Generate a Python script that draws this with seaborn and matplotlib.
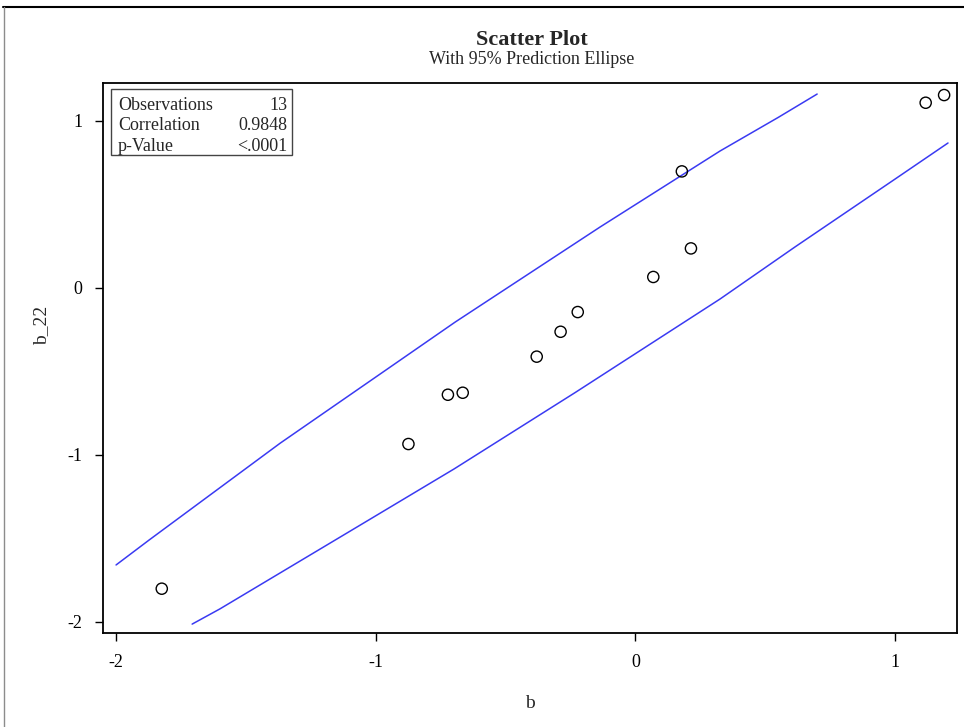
import matplotlib
matplotlib.use('Agg')
import matplotlib.pyplot as plt
import seaborn as sns
import numpy as np
import pandas as pd
from matplotlib.patches import Rectangle
from matplotlib.lines import Line2D

# scatter points
b = [-1.824, -0.874, -0.722, -0.665, -0.380, -0.288, -0.222, 0.069, 0.179, 0.214, 1.118, 1.189]
b_22 = [-1.801, -0.935, -0.640, -0.628, -0.412, -0.263, -0.145, 0.065, 0.697, 0.236, 1.108, 1.154]

# 95% prediction ellipse, the two visible arcs
upper_x = [-2.000, -1.873, -1.368, -0.983, -0.694, -0.136, 0.326, 0.550, 0.700]
upper_y = [-1.659, -1.510, -0.930, -0.516, -0.205, 0.364, 0.819, 1.020, 1.160]
lower_x = [-1.707, -1.600, -1.068, -0.698, -0.232, 0.326, 0.615, 1.000, 1.204]
lower_y = [-2.013, -1.922, -1.428, -1.084, -0.627, -0.067, 0.245, 0.651, 0.867]

ticks = [-2, -1, 0, 1]
stats_names = ['Observations', 'Correlation', 'p-Value']
stats_vals = ['13', '0.9848', '<.0001']

pts = pd.DataFrame({'b': b, 'b_22': b_22})

sns.set_style('white')
plt.rcParams['font.family'] = ['Liberation Serif', 'DejaVu Serif']
plt.rcParams['axes.unicode_minus'] = False

fig = plt.figure(figsize=(9.64, 7.27), dpi=100)
ax = fig.add_axes([0.1072, 0.1289, 0.8851, 0.7569])

sns.lineplot(x=upper_x, y=upper_y, ax=ax, color='#3a3af2', lw=1.1, sort=False, estimator=None)
sns.lineplot(x=lower_x, y=lower_y, ax=ax, color='#3a3af2', lw=1.1, sort=False, estimator=None)
sns.scatterplot(data=pts, x='b', y='b_22', ax=ax, s=65, marker='o',
                facecolor='none', edgecolor='black', linewidth=1.0, zorder=3)

ax.set_xlim(-2.049, 1.237)
ax.set_ylim(-2.068, 1.226)
ax.set_xticks(ticks)
ax.set_yticks(ticks)
ax.tick_params(direction='out', length=6, width=1, labelsize=13, pad=9,
               bottom=True, left=True, colors='black')
for s in ax.spines.values():
    s.set_color('black')
    s.set_linewidth(1.3)

ax.set_xlabel('b', fontsize=14)
ax.set_ylabel('b_22', fontsize=14)
ax.xaxis.set_label_coords(0.5, -0.112)
ax.yaxis.set_label_coords(-0.062, 0.56)

# statistics inset
ax.add_patch(Rectangle((0.009, 0.870), 0.212, 0.120, transform=ax.transAxes,
                       fill=False, edgecolor='#444444', lw=1.0, zorder=4))
for i, (n, v) in enumerate(zip(stats_names, stats_vals)):
    yy = 0.960 - i * 0.038
    ax.text(0.0172, yy, n, transform=ax.transAxes, ha='left', va='center', fontsize=13)
    ax.text(0.2153, yy, v, transform=ax.transAxes, ha='right', va='center', fontsize=13)

fig.text(0.552, 1 - 40 / 727, 'Scatter Plot', ha='center', va='center',
         fontsize=16, fontweight='bold')
fig.text(0.552, 1 - 59 / 727, 'With 95% Prediction Ellipse', ha='center', va='center',
         fontsize=13)

# page frame around the graph
fig.add_artist(Line2D([3 / 964, 1], [1 - 7 / 727, 1 - 7 / 727], color='black', lw=1.5))
fig.add_artist(Line2D([4 / 964, 4 / 964], [0, 1 - 7 / 727], color='#8c8c8c', lw=1.0))

fig.savefig('out.png', dpi=100)
